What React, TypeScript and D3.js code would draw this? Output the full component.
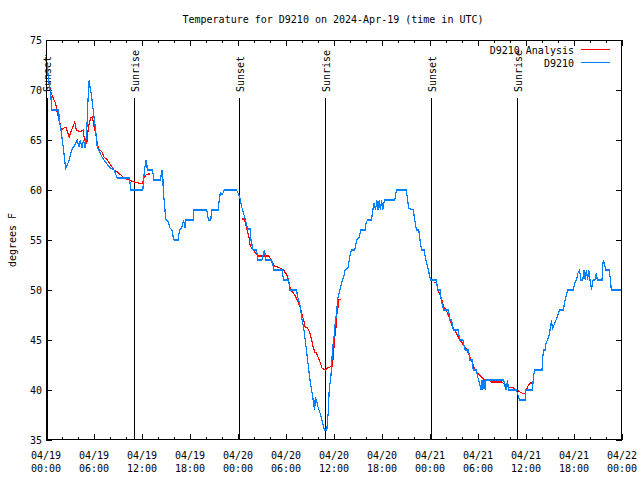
import React from "react";
import * as d3 from "d3";

const title = "Temperature for D9210 on 2024-Apr-19 (time in UTC)";
const yLabel = "degrees F";
const yTicks = [35, 40, 45, 50, 55, 60, 65, 70, 75];
const xTickHours = [0, 6, 12, 18, 24, 30, 36, 42, 48, 54, 60, 66, 72];
const xTickDates = ["04/19", "04/19", "04/19", "04/19", "04/20", "04/20", "04/20", "04/20", "04/21", "04/21", "04/21", "04/21", "04/22"];
const xTickTimes = ["00:00", "06:00", "12:00", "18:00", "00:00", "06:00", "12:00", "18:00", "00:00", "06:00", "12:00", "18:00", "00:00"];
const sunEvents: [number, string][] = [
  [0.1, "Sunset"], [11.04, "Sunrise"], [24.16, "Sunset"], [34.9, "Sunrise"], [48.17, "Sunset"], [58.9, "Sunrise"],
];

// hours since 04/19 00:00 UTC, degrees F
const observed: [number, number][] = [
  [0.0, 73.5], [0.2, 72], [0.4, 70.5], [0.6, 69.7], [0.7, 68], [1.6, 68], [1.65, 66.7], [1.8, 66.5], [2.0, 65.2], [2.2, 64], [2.45, 62.2],
  [2.7, 62.6], [2.9, 63], [3.2, 64], [3.6, 64.5], [3.9, 65], [4.1, 64.3], [4.3, 65], [4.5, 64.2], [4.7, 65], [4.9, 64.2],
  [5.1, 66], [5.25, 69], [5.4, 71], [5.5, 70.3], [5.65, 69.7], [5.9, 68], [6.2, 66], [6.4, 64.3], [6.6, 64], [7.0, 63.3],
  [7.25, 63], [7.9, 62.3], [8.5, 62], [8.9, 61.2], [10.4, 61.2], [10.5, 60.7], [10.6, 60],
  [12.1, 60], [12.25, 61.5], [12.4, 62.5], [12.5, 63], [12.6, 62.7], [12.66, 62], [13.3, 62], [13.5, 61], [14.3, 61],
  [14.5, 62], [14.6, 61.5], [14.66, 59.8], [14.8, 58.7], [14.9, 57.7], [15.0, 57], [15.3, 56.8], [15.5, 56.2], [15.75, 56],
  [15.9, 55.3], [16.0, 55], [16.5, 55], [16.7, 56], [17.0, 56.3], [17.2, 57], [17.4, 56.2], [17.5, 57], [18.4, 57],
  [18.5, 58], [20.1, 58], [20.2, 57.5], [20.3, 57], [20.6, 57], [20.7, 58], [21.5, 58], [21.7, 59.3], [21.8, 59.7],
  [22.0, 59.5], [22.3, 60], [23.8, 60], [24.0, 59.7], [24.25, 59.2], [24.5, 58.2], [24.9, 57.1],
  [25.2, 56.1], [25.5, 56.1], [25.6, 55.1], [25.8, 54.3], [25.9, 54], [26.3, 54], [26.5, 53], [27.0, 53], [27.2, 53.7],
  [27.3, 54], [27.4, 53.5], [27.5, 53], [28.2, 53], [28.5, 52], [29.5, 52], [29.7, 51], [30.3, 51], [30.5, 50],
  [31.3, 50], [31.5, 49.2], [31.75, 48.5], [31.95, 47.3], [32.2, 46.3], [32.4, 45], [32.6, 43.7], [32.8, 42.3],
  [33.0, 41], [33.2, 40], [33.4, 39], [33.5, 38.3], [33.6, 38], [33.65, 39.2], [33.8, 39], [34.0, 38.3], [34.25, 37.7],
  [34.5, 37], [34.7, 36.3], [34.8, 36], [35.1, 36], [35.2, 37], [35.3, 38], [35.4, 40], [35.6, 41.3], [35.7, 42.3],
  [35.8, 44], [36.0, 45.3], [36.1, 46.3], [36.25, 47.3], [36.4, 48.5], [36.5, 49.3], [36.75, 50], [36.95, 50.7],
  [37.2, 51.3], [37.4, 52], [37.8, 52.3], [37.9, 53], [38.1, 53.8], [38.2, 54], [38.6, 54], [38.75, 54.7], [38.9, 55.1],
  [39.2, 55.3], [39.3, 56], [39.9, 56], [40.0, 56.7], [40.2, 57], [40.7, 57], [40.8, 57.7], [41.0, 58.7], [41.2, 58],
  [41.35, 59], [41.5, 58], [41.65, 59], [41.8, 58], [41.95, 59], [42.1, 58], [42.3, 59], [43.6, 59], [43.8, 60],
  [45.0, 60], [45.2, 59.2], [45.3, 58.2], [45.9, 58], [46.1, 57], [46.3, 56], [46.6, 56], [46.75, 55], [46.95, 54],
  [47.25, 54], [47.5, 53], [47.8, 52], [48.0, 51.2], [48.1, 51], [48.8, 51], [48.96, 50], [49.25, 50], [49.4, 49],
  [49.7, 48], [50.3, 48], [50.5, 47], [50.7, 47], [50.9, 46], [51.5, 46], [51.75, 45], [52.1, 45], [52.4, 44],
  [52.8, 44], [53.0, 43], [53.25, 43], [53.4, 42], [53.8, 42], [54.0, 41.2], [54.25, 40.5], [54.4, 40], [54.5, 41],
  [54.6, 40], [54.75, 41], [54.9, 40], [55.0, 41], [57.2, 41], [57.4, 40.3], [57.5, 40], [57.7, 41], [57.8, 40],
  [58.8, 40], [59.2, 39], [59.9, 39], [60.0, 40], [60.8, 40], [60.9, 41], [61.0, 41.7], [61.1, 42], [62.0, 42],
  [62.1, 43.3], [62.2, 44], [62.4, 44], [62.5, 44.7], [62.7, 45], [62.9, 45.5], [63.1, 46.5], [63.2, 47], [63.3, 46],
  [63.5, 46.5], [63.75, 47], [63.9, 47.3], [64.2, 48], [64.7, 48], [64.8, 48.7], [65.0, 49.3], [65.2, 50], [65.9, 50],
  [66.1, 50.7], [66.3, 51], [66.5, 51.7], [66.7, 52], [66.85, 51], [67.1, 51], [67.25, 52], [67.4, 51], [67.55, 52],
  [67.7, 51], [67.85, 52], [68.0, 51], [68.2, 50], [68.3, 50.7], [68.4, 51], [68.6, 51], [68.8, 51.7], [68.9, 51],
  [69.5, 51], [69.6, 52.5], [69.66, 53], [69.8, 52.7], [69.95, 52], [70.4, 52], [70.6, 50.7], [70.66, 50], [72.0, 50],
];

const analysisA: [number, number][] = [
  [0.3, 71], [0.6, 69.8], [1.0, 69], [1.2, 68.7], [1.4, 67.8], [1.75, 66.7], [1.9, 66], [2.25, 66.2], [2.5, 66.3],
  [2.9, 65.3], [3.3, 66.2], [3.6, 66.8], [3.8, 66], [4.25, 65.8], [4.66, 66], [4.8, 65], [5.1, 64.7], [5.3, 66.3],
  [5.6, 67.2], [5.8, 67.3], [6.0, 66.3], [6.2, 65.7], [6.4, 64.7], [6.6, 64.1], [7.0, 63.8], [7.25, 63.3], [7.66, 63],
  [8.1, 62.5], [8.5, 62], [9.1, 61.7], [9.75, 61.2], [10.4, 61], [11.0, 60.8], [11.5, 60.7], [12.0, 60.6],
  [12.25, 61.2], [12.5, 61.5], [12.8, 61.6], [13.0, 61.6],
];
const analysisB: [number, number][] = [
  [24.5, 57.1], [24.8, 57.1], [25.2, 55.8], [25.4, 55.2], [25.5, 54.5], [25.7, 54.2], [25.9, 54], [26.3, 53.6],
  [26.5, 53.4], [27.8, 53.4], [28.0, 53.2], [28.2, 52.8], [28.6, 52.4], [29.25, 52.2], [29.7, 52], [30.1, 51.5],
  [30.3, 51], [30.5, 50.3], [30.8, 49.8], [31.1, 49.5], [31.5, 48.8], [31.75, 48.3], [31.95, 47.7], [32.2, 47],
  [32.4, 46.3], [32.7, 46.2], [33.0, 45.7], [33.2, 45], [33.4, 44.3], [33.6, 43.8], [33.8, 43.7], [34.25, 42.8],
  [34.5, 42.2], [34.9, 42], [35.2, 42.2], [35.5, 42.3], [35.8, 42.4], [35.9, 43.3], [36.1, 45.3], [36.25, 46.3],
  [36.3, 47.3], [36.5, 48.3], [36.6, 49], [36.8, 49.1],
];
const analysisC: [number, number][] = [
  [48.6, 50.8], [48.8, 50.7], [49.0, 50], [49.25, 49.5], [49.5, 49], [49.7, 48.3], [50.0, 48], [50.3, 47.5],
  [50.5, 47], [50.8, 46.3], [51.1, 46], [51.4, 45.5], [51.75, 45], [52.2, 44.5], [52.6, 44], [53.0, 43.3],
  [53.3, 42.7], [53.6, 42], [54.0, 41.7], [54.4, 41.3], [54.7, 41.1], [55.3, 41], [55.7, 40.8], [57.0, 40.8],
  [57.4, 40.5], [57.8, 40.3], [58.4, 40.2], [58.8, 40], [59.25, 39.8], [59.5, 39.7], [59.75, 39.6], [59.9, 39.7],
  [60.1, 40.1], [60.3, 40.5], [60.5, 40.7], [60.8, 40.7],
];

const FONT = "'DejaVu Sans Mono', 'Liberation Mono', monospace";
const BLUE = "#0080ff";
const RED = "#ff0000";

export default function App() {
  const W = 640, H = 480;
  const L = 46, R = 622, T = 40, B = 440;
  const x = d3.scaleLinear().domain([0, 72]).range([L, R]);
  const y = d3.scaleLinear().domain([35, 75]).range([B, T]);
  const line = d3.line<[number, number]>().x((d) => x(d[0])).y((d) => y(d[1]));
  const minorX = d3.range(0, 73, 2).filter((h) => h % 6 !== 0);

  return (
    <svg width={W} height={H} style={{ position: "absolute", left: 0, top: 0, background: "#fff" }} fontFamily={FONT} fontSize={10}>
      <rect x={0} y={0} width={W} height={H} fill="#fff" />
      <text x={333} y={23} textAnchor="middle">{title}</text>
      <text transform={`translate(12,${(T + B) / 2}) rotate(-90)`} textAnchor="middle" dominantBaseline="central">{yLabel}</text>

      {/* ticks */}
      <g stroke="#000" strokeWidth={1} shapeRendering="crispEdges">
        {yTicks.map((t) => (
          <g key={"y" + t}>
            <line x1={L} x2={L + 6} y1={y(t)} y2={y(t)} />
            <line x1={R - 6} x2={R} y1={y(t)} y2={y(t)} />
          </g>
        ))}
        {xTickHours.map((h) => (
          <g key={"x" + h}>
            <line x1={x(h)} x2={x(h)} y1={B} y2={B - 6} />
            <line x1={x(h)} x2={x(h)} y1={T} y2={T + 6} />
          </g>
        ))}
        {minorX.map((h) => (
          <g key={"m" + h}>
            <line x1={x(h)} x2={x(h)} y1={B} y2={B - 3} />
            <line x1={x(h)} x2={x(h)} y1={T} y2={T + 3} />
          </g>
        ))}
      </g>
      {yTicks.map((t) => (
        <text key={"yl" + t} x={L - 4} y={y(t)} textAnchor="end" dominantBaseline="central">{t}</text>
      ))}
      {xTickHours.map((h, i) => (
        <g key={"xl" + h}>
          <text x={x(h)} y={459} textAnchor="middle">{xTickDates[i]}</text>
          <text x={x(h)} y={472} textAnchor="middle">{xTickTimes[i]}</text>
        </g>
      ))}

      {/* sun events */}
      {sunEvents.map(([h, name], i) => (
        <g key={"s" + i}>
          <line x1={Math.round(x(h)) + 0.5} x2={Math.round(x(h)) + 0.5} y1={98} y2={B} stroke="#000" strokeWidth={1.5} shapeRendering="crispEdges" />
          <text transform={`translate(${x(h) + 1},92) rotate(-90)`} dominantBaseline="central" textAnchor="start">{name}</text>
        </g>
      ))}

      {/* series */}
      <g fill="none" strokeWidth={1.2} shapeRendering="crispEdges">
        <path d={line(analysisA) || ""} stroke={RED} />
        <path d={line(analysisB) || ""} stroke={RED} />
        <path d={line(analysisC) || ""} stroke={RED} />
        <path d={line(observed) || ""} stroke={BLUE} />
      </g>

      {/* legend */}
      <text x={574} y={50} textAnchor="end" dominantBaseline="central">D9210 Analysis</text>
      <line x1={581} x2={610} y1={49.5} y2={49.5} stroke={RED} strokeWidth={1} shapeRendering="crispEdges" />
      <text x={574} y={63} textAnchor="end" dominantBaseline="central">D9210</text>
      <line x1={581} x2={610} y1={62.5} y2={62.5} stroke={BLUE} strokeWidth={1} shapeRendering="crispEdges" />

      <rect x={L + 0.5} y={T + 0.5} width={R - L - 1} height={B - T - 1} fill="none" stroke="#000" strokeWidth={1} shapeRendering="crispEdges" />
    </svg>
  );
}
